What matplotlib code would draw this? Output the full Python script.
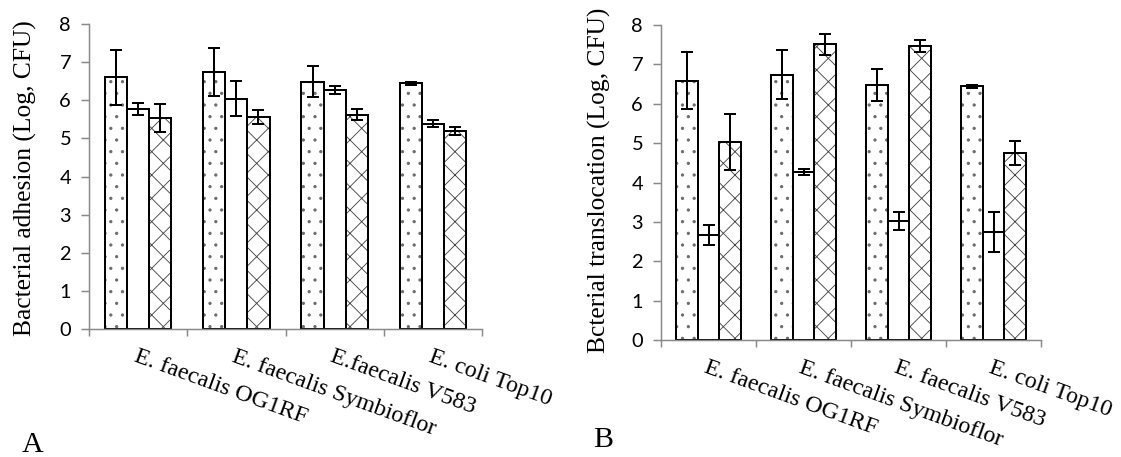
import matplotlib.pyplot as plt
import numpy as np


# --------------------------------------------------
# VALUES
# --------------------------------------------------

strains_a = [
    "E. faecalis OG1RF",
    "E. faecalis Symbioflor",
    "E.faecalis V583",
    "E. coli Top10",
]
strains_b = [
    "E. faecalis OG1RF",
    "E. faecalis Symbioflor",
    "E. faecalis V583",
    "E. coli Top10",
]

adhesion_dots = [6.60, 6.75, 6.49, 6.44]
adhesion_dots_err = [0.73, 0.63, 0.41, 0.04]
adhesion_plain = [5.77, 6.04, 6.27, 5.39]
adhesion_plain_err = [0.15, 0.46, 0.11, 0.10]
adhesion_cross = [5.53, 5.56, 5.62, 5.20]
adhesion_cross_err = [0.37, 0.18, 0.14, 0.10]

transloc_dots = [6.59, 6.74, 6.47, 6.44]
transloc_dots_err = [0.73, 0.63, 0.41, 0.04]
transloc_plain = [2.66, 4.27, 3.03, 2.74]
transloc_plain_err = [0.25, 0.07, 0.23, 0.50]
transloc_cross = [5.03, 7.51, 7.47, 4.75]
transloc_cross_err = [0.70, 0.26, 0.15, 0.30]

y_ticks = [0, 1, 2, 3, 4, 5, 6, 7, 8]


# --------------------------------------------------
# STYLE
# --------------------------------------------------

DPI = 70
PX = 72 / DPI  # points per pixel

axis_grey = "#8a8a8a"
serif = "Liberation Serif"
tick_font = "Lato"

plt.rcParams["hatch.linewidth"] = 0.9

fig = plt.figure(figsize=(1121 / DPI, 457 / DPI), dpi=DPI)

ax_a = fig.add_axes([89 / 1121, 128 / 457, 393 / 1121, 305 / 457])
ax_b = fig.add_axes([661 / 1121, 117 / 457, 380 / 1121, 315 / 457])


def draw_panel(ax, labels, series, errors):
    width = 0.225
    centers = np.arange(len(labels)) + 0.5
    hatches = [".", None, "x"]
    hatch_colors = ["#6a6a6a", "white", "#444444"]
    offsets = [-width, 0, width]

    for values, errs, hatch, hcol, off in zip(series, errors, hatches,
                                              hatch_colors, offsets):
        # fill + pattern in grey
        ax.bar(
            centers + off,
            values,
            width=width,
            color="white",
            edgecolor=hcol,
            linewidth=0,
            hatch=hatch,
            zorder=2,
        )
        # black outline on top
        ax.bar(
            centers + off,
            values,
            width=width,
            fill=False,
            edgecolor="black",
            linewidth=2.0 * PX,
            zorder=2.5,
        )
        ax.errorbar(
            centers + off,
            values,
            yerr=errs,
            fmt="none",
            ecolor="black",
            elinewidth=2.0 * PX,
            capsize=6 * PX,
            capthick=2.0 * PX,
            zorder=3,
        )

    ax.set_xlim(0, len(labels))
    ax.set_ylim(0, 8)
    ax.set_yticks(y_ticks)
    ax.set_yticklabels([str(t) for t in y_ticks], fontfamily=tick_font,
                       fontsize=20 * PX)

    ax.set_xticks(np.arange(len(labels) + 1))
    ax.set_xticklabels([])
    ax.set_xticks(centers, minor=True)
    ax.set_xticklabels(
        labels,
        minor=True,
        rotation=-20,
        ha="left",
        va="top",
        rotation_mode="anchor",
        fontfamily=serif,
        fontsize=24 * PX,
    )

    for side in ["top", "right"]:
        ax.spines[side].set_visible(False)
    for side in ["left", "bottom"]:
        ax.spines[side].set_color(axis_grey)
        ax.spines[side].set_linewidth(1.5 * PX)

    ax.tick_params(axis="y", which="major", direction="out",
                   length=8 * PX, width=1.5 * PX, color=axis_grey,
                   pad=10 * PX)
    ax.tick_params(axis="x", which="major", direction="out",
                   length=7 * PX, width=1.5 * PX, color=axis_grey)
    ax.tick_params(axis="x", which="minor", length=0, pad=17 * PX)


draw_panel(
    ax_a,
    strains_a,
    [adhesion_dots, adhesion_plain, adhesion_cross],
    [adhesion_dots_err, adhesion_plain_err, adhesion_cross_err],
)
draw_panel(
    ax_b,
    strains_b,
    [transloc_dots, transloc_plain, transloc_cross],
    [transloc_dots_err, transloc_plain_err, transloc_cross_err],
)


# --------------------------------------------------
# AXIS TITLES AND PANEL LETTERS
# --------------------------------------------------

fig.text(25 / 1121, 1 - 178 / 457, "Bacterial adhesion (Log, CFU)",
         rotation=90, ha="center", va="center",
         fontfamily=serif, fontsize=25.5 * PX)
fig.text(599 / 1121, 1 - 180 / 457, "Bcterial translocation (Log, CFU)",
         rotation=90, ha="center", va="center",
         fontfamily=serif, fontsize=25.5 * PX)

fig.text(22 / 1121, 5 / 457, "A", ha="left", va="baseline",
         fontfamily=serif, fontsize=30 * PX)
fig.text(593 / 1121, 10 / 457, "B", ha="left", va="baseline",
         fontfamily=serif, fontsize=30 * PX)


# --------------------------------------------------
# SAVE
# --------------------------------------------------

fig.savefig("out.png", dpi=DPI)
plt.close(fig)
